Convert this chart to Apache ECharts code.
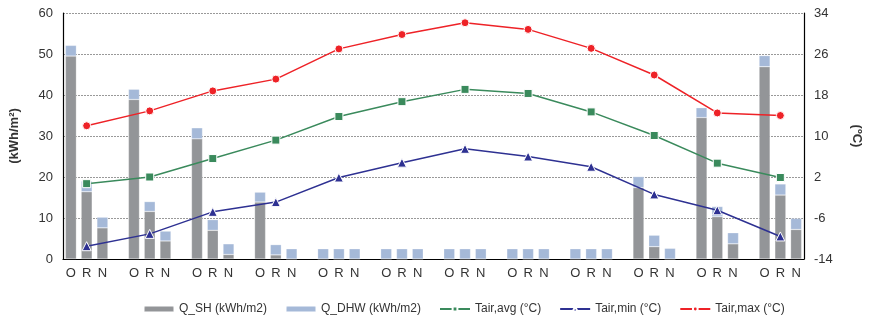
<!DOCTYPE html>
<html>
<head>
<meta charset="utf-8">
<script src="https://cdn.jsdelivr.net/npm/echarts@6/dist/echarts.min.js"></script>
<style>
  html, body { margin: 0; padding: 0; background: #fff; }
  #chart { width: 871px; height: 318px; }
</style>
</head>
<body>
<div id="chart"></div>
<script>
// per month: O, R, N bars (kWh/m2)
const qshO = [49.5, 38.9, 29.3, 13.9, 0, 0, 0, 0, 0, 17.4, 34.5, 46.9]
const qshR = [16.4, 11.6, 7.0, 1.0, 0, 0, 0, 0, 0, 3.0, 10.3, 15.6]
const qshN = [7.6, 4.4, 1.1, 0, 0, 0, 0, 0, 0, 0, 3.7, 7.2]
const dhwO = [2.6, 2.5, 2.7, 2.4, 2.5, 2.5, 2.5, 2.5, 2.5, 2.7, 2.4, 2.7]
const dhwR = [2.6, 2.4, 2.6, 2.5, 2.5, 2.5, 2.5, 2.5, 2.5, 2.8, 2.5, 2.7]
const dhwN = [2.6, 2.4, 2.6, 2.5, 2.5, 2.5, 2.5, 2.5, 2.5, 2.6, 2.7, 2.7]

// air temperature (°C), one value per month
const tAvg = [0.7, 2.0, 5.6, 9.2, 13.8, 16.7, 19.1, 18.3, 14.7, 10.1, 4.7, 1.9]
const tMin = [-11.5, -9.1, -4.8, -2.9, 1.9, 4.8, 7.5, 6.0, 4.0, -1.4, -4.5, -9.6]
const tMax = [12.0, 14.9, 18.8, 21.1, 27.0, 29.8, 32.1, 30.8, 27.1, 21.9, 14.5, 14.0]

const groupLabels = ['O', 'R', 'N']

// build 47 slots: O R N [gap] O R N ...
let cats = [], sh = [], dhw = [], avg = [], mn = [], mx = []
for (let m = 0; m < 12; m++) {
  let o = [qshO[m], qshR[m], qshN[m]]
  let d = [dhwO[m], dhwR[m], dhwN[m]]
  for (let k = 0; k < 3; k++) {
    cats.push(groupLabels[k])
    sh.push(o[k])
    dhw.push(d[k])
    avg.push(k == 1 ? tAvg[m] : null)
    mn.push(k == 1 ? tMin[m] : null)
    mx.push(k == 1 ? tMax[m] : null)
  }
  if (m < 11) {
    cats.push('')
    sh.push(null); dhw.push(null); avg.push(null); mn.push(null); mx.push(null)
  }
}

const font = 'Liberation Sans, Arial, sans-serif'
const txt = '#333'

let chart = echarts.init(document.getElementById('chart'))
chart.setOption({
  animation: false,
  textStyle: { fontFamily: font },
  grid: { left: 61, right: 57, top: 13, bottom: 59 },
  legend: {
    top: 298,
    left: 138,
    itemWidth: 30,
    itemHeight: 6,
    itemGap: 18,
    textStyle: { fontSize: 12, color: txt, fontFamily: font },
    data: ['Q_SH (kWh/m2)', 'Q_DHW (kWh/m2)', 'Tair,avg (°C)', 'Tair,min (°C)', 'Tair,max (°C)']
  },
  xAxis: {
    type: 'category',
    data: cats,
    axisLine: { lineStyle: { color: '#000', width: 1.2 } },
    axisTick: { show: false },
    axisLabel: { interval: 0, fontSize: 13, color: txt, margin: 8 }
  },
  yAxis: [
    {
      type: 'value', min: 0, max: 60, interval: 10,
      name: '(kWh/m²)', nameLocation: 'middle', nameGap: 42, nameRotate: 90,
      nameTextStyle: { fontSize: 13, fontWeight: 'bold', color: txt },
      axisLine: { show: true, lineStyle: { color: '#000', width: 1.2 } },
      axisTick: { show: false },
      axisLabel: { fontSize: 13, color: txt, margin: 10 },
      splitLine: { lineStyle: { color: '#999', type: [2, 1], width: 1 } }
    },
    {
      type: 'value', min: -14, max: 34, interval: 8, position: 'right',
      name: '(ºC)', nameLocation: 'middle', nameGap: 46, nameRotate: -90,
      nameTextStyle: { fontSize: 13, fontWeight: 'bold', color: txt },
      axisLine: { show: true, lineStyle: { color: '#000', width: 1.2 } },
      axisTick: { show: false },
      axisLabel: { fontSize: 13, color: txt, margin: 10 },
      splitLine: { show: false }
    }
  ],
  series: [
    {
      name: 'Q_SH (kWh/m2)', type: 'bar', stack: 'q', data: sh, barWidth: 11,
      itemStyle: { color: '#939598', borderColor: 'rgba(255,255,255,0.5)', borderWidth: 0.5 }
    },
    {
      name: 'Q_DHW (kWh/m2)', type: 'bar', stack: 'q', data: dhw, barWidth: 11,
      itemStyle: { color: '#a5b9d8', borderColor: 'rgba(255,255,255,0.5)', borderWidth: 0.5 }
    },
    {
      name: 'Tair,avg (°C)', type: 'line', yAxisIndex: 1, data: avg, connectNulls: true,
      symbol: 'rect', symbolSize: 8,
      lineStyle: { color: '#3a8a5c', width: 1.5 },
      itemStyle: { color: '#3a8a5c', borderColor: '#fff', borderWidth: 1 }
    },
    {
      name: 'Tair,min (°C)', type: 'line', yAxisIndex: 1, data: mn, connectNulls: true,
      symbol: 'triangle', symbolSize: 9,
      lineStyle: { color: '#2e3192', width: 1.5 },
      itemStyle: { color: '#2e3192', borderColor: '#fff', borderWidth: 1 }
    },
    {
      name: 'Tair,max (°C)', type: 'line', yAxisIndex: 1, data: mx, connectNulls: true,
      symbol: 'circle', symbolSize: 8,
      lineStyle: { color: '#ee2227', width: 1.5 },
      itemStyle: { color: '#ee2227', borderColor: '#fff', borderWidth: 1 }
    }
  ]
})
</script>
</body>
</html>
